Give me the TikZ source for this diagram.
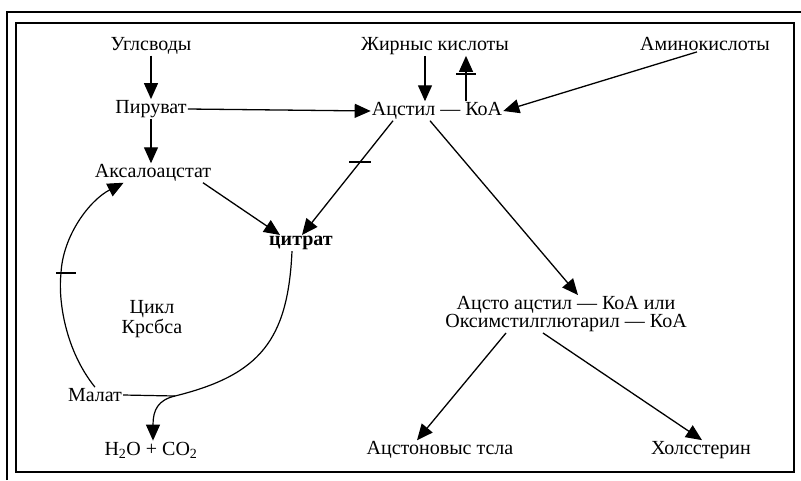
\documentclass[tikz,border=0pt]{standalone}
\usepackage{fontspec}
\setmainfont{Liberation Serif}
\usetikzlibrary{arrows.meta,calc}
\begin{document}
\begin{tikzpicture}[x=1pt,y=-1pt,
  txt/.style={font=\fontsize{20}{21}\selectfont, inner sep=1pt},
  tip/.style={-{Triangle[length=16pt,width=14pt]}},
  arr/.style={tip, line width=1.3pt},
  curv/.style={line width=1.2pt},
  bar/.style={line width=1.3pt},
  frame/.style={line width=1.6pt}]
\useasboundingbox (0,0) rectangle (801,480);
% frame
\draw[frame] (7,480) -- (7,12) -- (801,12);
\draw[frame] (16,23) rectangle (794,472);
% nodes
\node[txt] (ugl) at (151,46) {Углсводы};
\node[txt] (zhir) at (435,46) {Жирныс кислоты};
\node[txt] (amino) at (705,44) {Аминокислоты};
\node[txt] (pir) at (151,109) {Пируват};
\node[txt] (acet) at (437,111) {Ацстил — КоА};
\node[txt] (aks) at (153,173) {Аксалоацстат};
\node[txt,font=\fontsize{20}{21}\selectfont\bfseries] (cit) at (301,243) {цитрат};
\node[txt,align=center,font=\fontsize{20}{20}\selectfont] (cycle) at (152,319) {Цикл\\Крсбса};
\node[txt] (mal) at (95,395) {Малат};
\node[txt] (h2o) at (151,450) {H\textsubscript{2}O + CO\textsubscript{2}};
\node[txt,align=center,font=\fontsize{20}{17}\selectfont] (acto) at (566,314) {Ацсто ацстил — КоА или\\Оксимстилглютарил — КоА};
\node[txt] (ket) at (440,450) {Ацстоновыс тсла};
\node[txt] (chol) at (701,450) {Холсстерин};
% connectors
\draw[arr] (ugl) -- (pir);
\draw[arr] (pir.south) -- (pir.south |- aks.north);
\draw[arr] (pir.east) -- (acet.west);
\draw[arr] ([xshift=-12pt]acet.north |- zhir.south) -- ([xshift=-12pt]acet.north);
\draw[arr] ([xshift=29pt]acet.north) -- coordinate[pos=0.6] (b1) ([xshift=29pt]acet.north |- zhir.south);
\draw[bar] ([xshift=-10pt]b1) -- ([xshift=10pt]b1);
\draw[arr] ([xshift=-8pt]amino.south) -- (acet.east);
\draw[arr] ([xshift=-44pt]acet.south) -- coordinate[pos=0.36] (b2) ([xshift=1pt]cit.north);
\draw[bar] ([xshift=-11pt]b2) -- ([xshift=11pt]b2);
\draw[arr] ([xshift=50pt]aks.south) -- ([xshift=-21pt]cit.north);
\draw[arr] ([xshift=-7pt]acet.south) -- ([xshift=12pt]acto.north);
\draw[arr] ([xshift=-60pt]acto.south) -- ([xshift=-23pt]ket.north);
\draw[arr] ([xshift=-23pt]acto.south) -- ([xshift=1pt]chol.north);
% Krebs cycle curves
\coordinate (j) at (175,396);
\draw[curv] (mal.north) .. controls (65,350) and (58,300) .. (61,273) coordinate (b3);
\draw[curv,tip] (b3) .. controls (63,235) and (90,200) .. ([xshift=30pt]aks.south west);
\draw[bar] ([xshift=-5pt]b3) -- ([xshift=15pt]b3);
\draw[curv] (mal.east) -- (j);
\draw[curv] ([xshift=-9pt]cit.south) .. controls (288,340) and (260,375) .. (j);
\draw[curv,tip] (j) .. controls (158,400) and (153,410) .. ([xshift=2pt]h2o.north);
\end{tikzpicture}
\end{document}
